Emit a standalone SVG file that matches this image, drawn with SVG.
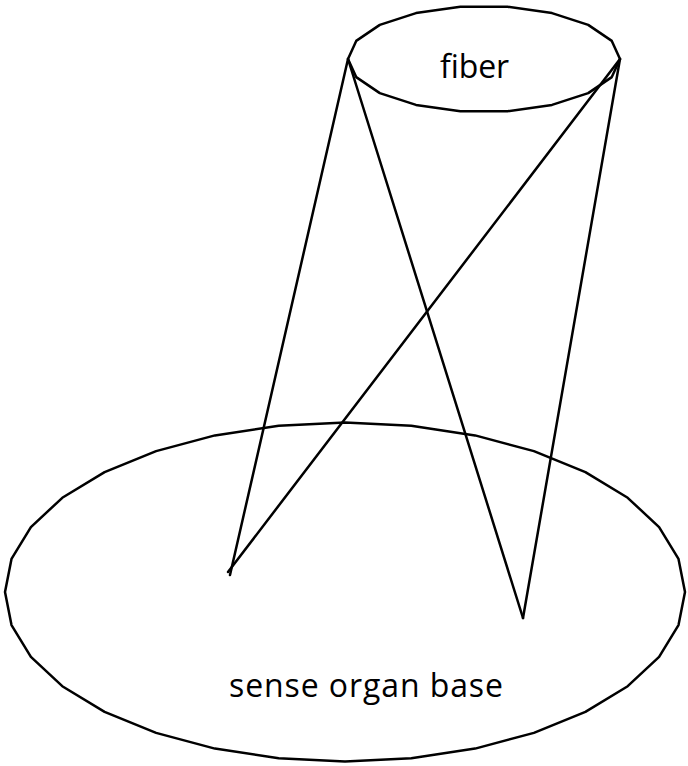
<svg xmlns="http://www.w3.org/2000/svg" width="688" height="766" viewBox="0 0 688 766">
<style>
.shape{fill:#fff;stroke:#000;stroke-width:2.5;stroke-linejoin:round}
.edge{fill:none;stroke:#000;stroke-width:2.5;stroke-linecap:round}
.lbl{font-family:"Open Sans","Noto Sans","Liberation Sans",sans-serif;font-size:32px;fill:#000;text-anchor:middle}
</style>
<rect width="688" height="766" fill="#fff"/>
<g id="base">
<polygon class="shape" points="345,422.5 411.3,425.8 475.1,435.4 533.9,451.1 585.4,472.1 627.7,497.8 659.1,527.1 678.5,558.9 685,592 678.5,625.1 659.1,656.9 627.7,686.2 585.4,711.9 533.9,732.9 475.1,748.6 411.3,758.2 345,761.5 278.7,758.2 214.9,748.6 156.1,732.9 104.6,711.9 62.3,686.2 30.9,656.9 11.5,625.1 5,592 11.5,558.9 30.9,527.1 62.3,497.8 104.6,472.1 156.1,451.1 214.9,435.4 278.7,425.8"/>
<text class="lbl" x="366" y="697" textLength="274">sense organ base</text>
</g>
<g id="fiber">
<polygon class="shape" points="507.6,6.8 552,13.1 588.2,24.9 611.8,40.9 620,59 611.8,77.1 588.2,93.1 552,104.9 507.6,111.2 460.4,111.2 416,104.9 379.8,93.1 356.2,77.1 348,59 356.2,40.9 379.8,24.9 416,13.1 460.4,6.8"/>
<text class="lbl" x="474.5" y="78" textLength="69">fiber</text>
</g>
<g id="connectors">
<line class="edge" x1="348" y1="59" x2="230" y2="575"/>
<line class="edge" x1="348" y1="59" x2="523" y2="618"/>
<line class="edge" x1="620" y1="59" x2="523" y2="618"/>
<line class="edge" x1="620" y1="59" x2="228" y2="572"/>
</g>
</svg>
